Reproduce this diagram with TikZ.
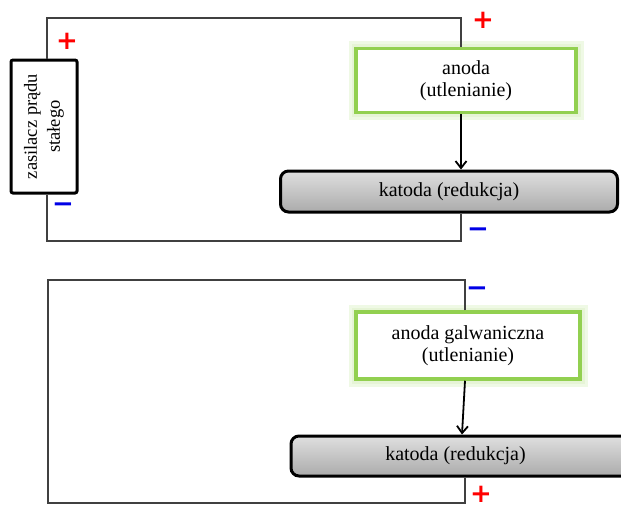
\documentclass[tikz,border=0pt]{standalone}
\usepackage{fontspec}
\setmainfont{Liberation Serif}
\newfontfamily\signfont{DejaVu Sans}
\usetikzlibrary{arrows.meta, positioning, calc}
\definecolor{wiregray}{HTML}{404040}
\definecolor{anodegreen}{HTML}{92D050}
\definecolor{glowgreen}{HTML}{D8EFBF}
\definecolor{plusred}{HTML}{FF0000}
\definecolor{minusblue}{HTML}{0000E6}

\begin{document}
\begin{tikzpicture}[
  x=1pt, y=-1pt,
  font=\fontsize{20}{22}\selectfont,
  >={Straight Barb[length=7pt, width=11pt]},
  wire/.style={draw=wiregray, line width=1.3pt},
  supply/.style={draw=black, line width=3pt, rounded corners=2pt, fill=white,
                 rotate=90, align=center, inner sep=0pt,
                 font=\fontsize{18.5}{23}\selectfont},
  anodebox/.style={draw=anodegreen, line width=3.5pt, fill=white, align=center,
                   inner sep=0pt,
                   preaction={draw=glowgreen, line width=15pt, opacity=0.4},
                   preaction={draw=glowgreen!70, line width=9pt, opacity=0.8}},
  cathodebox/.style={draw=black, line width=3pt, rounded corners=8pt,
                     top color=gray!25, bottom color=gray!90!black!60,
                     inner sep=0pt},
  arr/.style={->, draw=black, line width=1.8pt},
  plussign/.style={text=plusred, font=\signfont\bfseries\fontsize{26}{26}\selectfont,
                   inner sep=0pt},
  minussign/.style={text=minusblue, font=\signfont\bfseries\fontsize{26}{26}\selectfont,
                    inner sep=0pt},
]
  \clip (0,0) rectangle (621,509);

  % --- electrolysis (top) -----------------------------------------
  \coordinate (tlA) at (47,18);
  \coordinate (trA) at (461,18);
  \coordinate (brA) at (461,241);
  \coordinate (blA) at (47,241);

  \node[supply, minimum width=133, minimum height=66] (zasA) at (44,126.5)
    {zasilacz prądu\\stałego};
  \node[anodebox, minimum width=220, minimum height=64] (anA) at (466,80.5)
    {anoda\\(utlenianie)};
  \node[cathodebox, minimum width=337, minimum height=41] (katA) at (449,191.5)
    {katoda (redukcja)};

  \draw[wire] (zasA.east -| tlA) -- (tlA) -- (trA) -- (anA.north -| trA);
  \draw[wire] (katA.south -| brA) -- (brA) -- (blA) -- (zasA.west -| blA);
  \draw[arr] (anA.south -| trA) -- (katA.north -| trA);

  \node[plussign] (pA1) at (67,41) {+};
  \node[plussign] (pA2) at (483,20) {+};
  \node[minussign] (mA1) at (63,208) {−};
  \node[minussign] (mA2) at (478,233) {−};

  % --- galvanic cell (bottom) -------------------------------------
  \coordinate (tlB) at (48,280);
  \coordinate (trB) at (465,280);
  \coordinate (brB) at (465,503);
  \coordinate (blB) at (48,503);

  \node[anodebox, minimum width=224, minimum height=67] (anB) at (468,345.5)
    {anoda galwaniczna\\(utlenianie)};
  \node[cathodebox, minimum width=369, minimum height=40] (katB) at (475.5,456)
    {\hspace*{-40pt}katoda (redukcja)};

  \draw[wire] (anB.north -| trB) -- (trB) -- (tlB) -- (blB) -- (brB) -- (katB.south -| brB);
  \draw[arr] (anB.south -| trB) -- ([xshift=-3pt]katB.north -| trB);

  \node[minussign] (mB1) at (477,292) {−};
  \node[plussign] (pB1) at (481,494) {+};
\end{tikzpicture}
\end{document}
